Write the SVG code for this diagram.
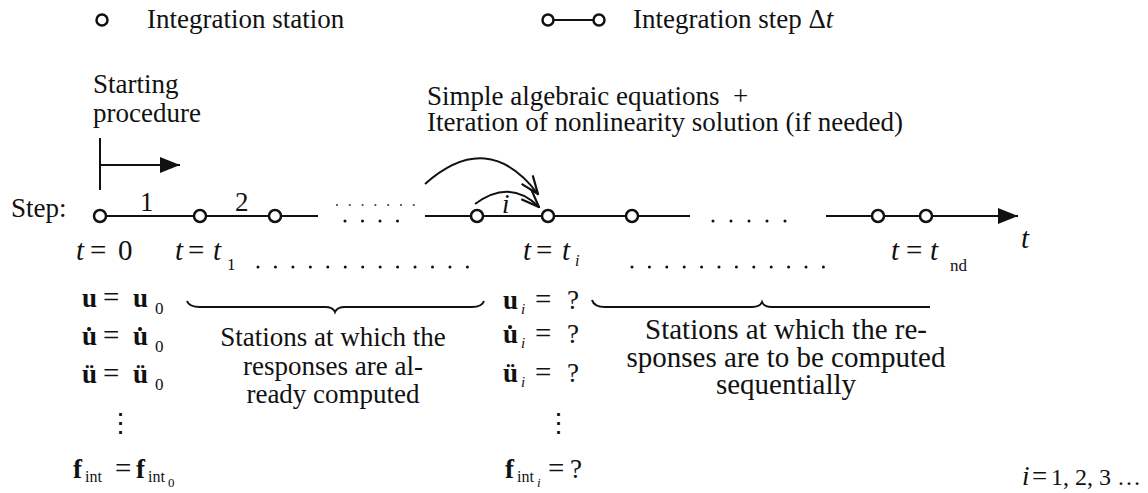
<svg xmlns="http://www.w3.org/2000/svg" width="1148" height="493" viewBox="0 0 1148 493" font-family="'Liberation Serif', serif">
<defs>
<style>
text{font-family:'Liberation Serif',serif;fill:#111;font-size:27px;}
.it{font-style:italic;}
.b{font-weight:bold;}
.eq{font-size:29px;}
.s24{font-size:24px;}
.s17{font-size:17px;}
.s16{font-size:16px;}
.s15{font-size:15px;}
.s13{font-size:13px;}
.big{font-size:29px;}
.st{fill:#fff;stroke:#111;stroke-width:2.5;}
.ln{stroke:#111;stroke-width:2;fill:none;}
.dots{stroke:#111;stroke-width:3;stroke-linecap:round;fill:none;}
.dots2{stroke:#444;stroke-width:2.2;stroke-linecap:round;fill:none;}
</style>
<marker id="solid" viewBox="0 0 20 16" refX="20" refY="8" markerWidth="20" markerHeight="16" markerUnits="userSpaceOnUse" orient="auto">
<path d="M0,0 L20,8 L0,16 Z" fill="#111"/>
</marker>
<marker id="open" viewBox="0 0 20 16" refX="19" refY="8" markerWidth="20" markerHeight="16" markerUnits="userSpaceOnUse" orient="auto">
<path d="M1,1 L19,8 L1,15" fill="none" stroke="#111" stroke-width="2.2"/>
</marker>
</defs>
<rect width="1148" height="493" fill="#fff"/>

<g id="legend">
<circle class="st" cx="102" cy="20" r="5.5"/>
<text x="147" y="28">Integration station</text>
<line class="ln" x1="548" y1="20" x2="599" y2="20"/>
<circle class="st" cx="548" cy="20" r="5.5"/>
<circle class="st" cx="599" cy="20" r="5.5"/>
<text x="633" y="28">Integration step Δ<tspan class="it">t</tspan></text>
</g>

<g id="starting-procedure">
<text x="93" y="93">Starting</text>
<text x="93" y="122">procedure</text>
<line class="ln" x1="100" y1="138" x2="100" y2="190" stroke-width="2.5"/>
<line class="ln" x1="100" y1="165" x2="180" y2="165" stroke-width="2.5" marker-end="url(#solid)"/>
</g>

<g id="algebraic-label">
<text x="427" y="105" xml:space="preserve">Simple algebraic equations  +</text>
<text x="427" y="131">Iteration of nonlinearity solution (if needed)</text>
</g>

<g id="connectors">
<line class="ln" x1="100" y1="216" x2="318" y2="216"/>
<line class="ln" x1="425" y1="216" x2="690" y2="216"/>
<line class="ln" x1="826" y1="216" x2="1018" y2="216" marker-end="url(#solid)"/>
<path class="ln" d="M425,184 Q488,128 538,194" stroke-width="2.5" marker-end="url(#open)"/>
<path class="ln" d="M475,204 Q510,178 539,207" stroke-width="2.5" marker-end="url(#open)"/>
<path class="dots2" d="M337,205 H414" stroke-dasharray="0 12.8"/>
<path class="dots" d="M345,221 H398" stroke-dasharray="0 17.5"/>
<path class="dots" d="M713,221 H786" stroke-dasharray="0 18"/>
<path class="dots" d="M258,267 H468" stroke-dasharray="0 17.45"/>
<path class="dots" d="M632,267 H824" stroke-dasharray="0 17.4"/>
<path class="ln" d="M187,301 Q189,307 200,307 L325,307 Q333,307 335,312 Q337,307 345,307 L472,307 Q482,307 484,301" stroke-width="2.8"/>
<path class="ln" d="M592,300 Q594,307 605,307 L752,307 Q760,307 762,302 Q764,307 772,307 L930,307" stroke-width="2.8"/>
</g>

<g id="step-label">
<text x="11" y="217">Step:</text>
<text x="140" y="211">1</text>
<text x="235" y="211">2</text>
<text class="it" x="502" y="213">i</text>
</g>

<g id="station-0"><circle class="st" cx="100" cy="216" r="6"/></g>
<g id="station-1"><circle class="st" cx="200" cy="216" r="6"/></g>
<g id="station-2"><circle class="st" cx="275" cy="216" r="6"/></g>
<g id="station-im1"><circle class="st" cx="477" cy="216" r="6"/></g>
<g id="station-i"><circle class="st" cx="548" cy="216" r="6"/></g>
<g id="station-ip1"><circle class="st" cx="632" cy="216" r="6"/></g>
<g id="station-n1"><circle class="st" cx="878" cy="216" r="6"/></g>
<g id="station-n"><circle class="st" cx="926" cy="216" r="6"/></g>

<g id="time-labels">
<text class="it eq" x="76" y="260">t</text>
<text class="eq" x="90" y="260">=</text>
<text class="eq" x="118" y="260">0</text>
<text class="it eq" x="175" y="260">t</text>
<text class="eq" x="188" y="260">=</text>
<text class="it eq" x="213" y="260">t</text>
<text class="s17" x="227" y="270">1</text>
<text class="it eq" x="523" y="260">t</text>
<text class="eq" x="536" y="260">=</text>
<text class="it eq" x="562" y="260">t</text>
<text class="it s16" x="575" y="266">i</text>
<text class="it eq" x="891" y="260">t</text>
<text class="eq" x="906" y="260">=</text>
<text class="it eq" x="930" y="260">t</text>
<text class="s17" x="950" y="271">nd</text>
<text class="it eq" x="1021" y="248">t</text>
</g>

<g id="known-responses">
<text class="b" x="82" y="307">u</text>
<text class="eq" x="103" y="307">=</text>
<text class="b" x="133" y="307">u</text>
<text class="s17" x="155" y="314">0</text>
<text class="b" x="82" y="345">u̇</text>
<text class="eq" x="103" y="345">=</text>
<text class="b" x="133" y="345">u̇</text>
<text class="s17" x="155" y="352">0</text>
<text class="b" x="82" y="383">ü</text>
<text class="eq" x="103" y="383">=</text>
<text class="b" x="133" y="383">ü</text>
<text class="s17" x="155" y="390">0</text>
<text x="107" y="432">⋮</text>
<text class="b" x="73" y="478">f</text>
<text class="s16" x="85" y="482">int</text>
<text class="eq" x="115" y="478">=</text>
<text class="b" x="136" y="478">f</text>
<text class="s16" x="148" y="482">int</text>
<text class="s13" x="168" y="487">0</text>
<text x="333" y="346" text-anchor="middle">Stations at which the</text>
<text x="333" y="375" text-anchor="middle">responses are al-</text>
<text x="333" y="403" text-anchor="middle">ready computed</text>
</g>

<g id="unknown-responses">
<text class="b" x="503" y="309">u</text>
<text class="it s15" x="521" y="314">i</text>
<text class="eq" x="535" y="309">=</text>
<text x="567" y="309">?</text>
<text class="b" x="503" y="343">u̇</text>
<text class="it s15" x="521" y="348">i</text>
<text class="eq" x="535" y="343">=</text>
<text x="567" y="343">?</text>
<text class="b" x="503" y="382">ü</text>
<text class="it s15" x="521" y="387">i</text>
<text class="eq" x="535" y="382">=</text>
<text x="567" y="382">?</text>
<text x="545" y="432">⋮</text>
<text class="b" x="505" y="478">f</text>
<text class="s16" x="517" y="482">int</text>
<text class="it s13" x="537" y="487">i</text>
<text class="eq" x="548" y="478">=</text>
<text x="570" y="478">?</text>
<text class="big" x="786" y="339" text-anchor="middle">Stations at which the re-</text>
<text class="big" x="786" y="367" text-anchor="middle">sponses are to be computed</text>
<text class="big" x="786" y="394" text-anchor="middle">sequentially</text>
</g>

<g id="index-note">
<text class="it" x="1022" y="485">i</text>
<text x="1032" y="485">=</text>
<text class="s24" x="1051" y="485">1, 2, 3 …</text>
</g>
</svg>
